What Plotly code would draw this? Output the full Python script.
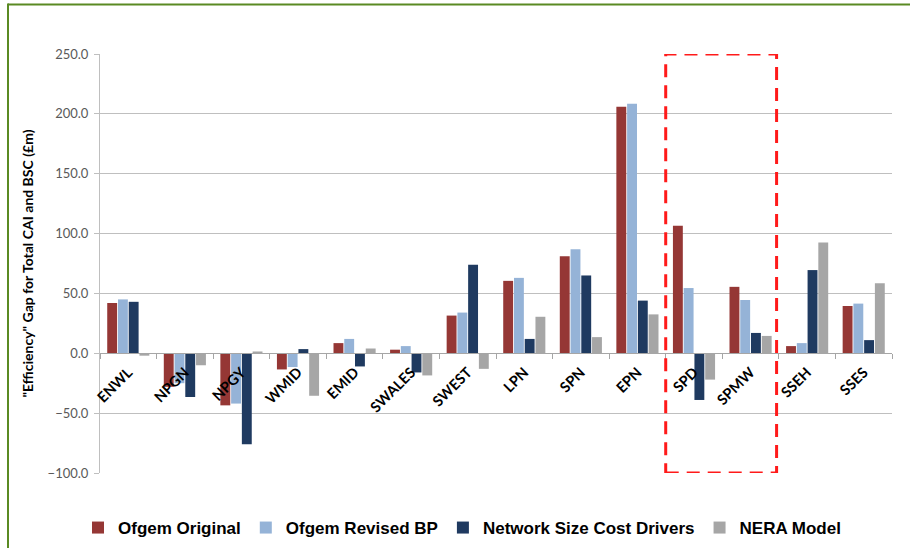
import plotly.graph_objects as go

categories = ["ENWL", "NPGN", "NPGY", "WMID", "EMID", "SWALES", "SWEST",
              "LPN", "SPN", "EPN", "SPD", "SPMW", "SSEH", "SSES"]

ofgem_original = [42, -28, -43.5, -13.5, 8.5, 3, 31.5, 60.5, 81, 206, 106.5, 55.5, 6, 39.5]
ofgem_revised_bp = [45, -25, -42, -11.5, 12, 6, 34, 63, 87, 208.5, 54.5, 44.5, 8.5, 41.5]
network_size = [43, -36.5, -76, 3.5, -11, -16, 74, 12, 65, 44, -39, 17, 69.5, 11]
nera_model = [-2, -10, 1.5, -35.5, 4, -18.5, -13, 30.5, 13.5, 32.5, -22, 14.5, 92.5, 58.5]

series_names = ["Ofgem Original", "Ofgem Revised BP", "Network Size Cost Drivers", "NERA Model"]
series_values = [ofgem_original, ofgem_revised_bp, network_size, nera_model]
series_colors = ["#953735", "#95b3d7", "#1f3a60", "#a6a6a6"]

y_ticks = [-100, -50, 0, 50, 100, 150, 200, 250]
y_min, y_max = -100, 250
highlight = ("SPD", "SPMW")

W, H = 910, 548
ML, MR, MT, MB = 100, 18, 54, 75

fig = go.Figure()
for name, vals, col in zip(series_names, series_values, series_colors):
    fig.add_trace(go.Bar(x=categories, y=vals, name=name, marker=dict(color=col, line=dict(width=0))))

pw = W - ML - MR
ph = H - MT - MB

def px_x(p):
    return (p - ML) / pw

def px_y(p):
    return (H - MB - p) / ph

shapes = [
    dict(type="rect", xref="x", yref="y",
         x0=categories.index(highlight[0]) - 0.5, x1=categories.index(highlight[1]) + 0.46,
         y0=y_min, y1=y_max,
         line=dict(color="#ff1a1a", width=3, dash="13px,8px"), fillcolor="rgba(0,0,0,0)", layer="above"),
    dict(type="line", xref="paper", yref="paper", x0=px_x(8), x1=px_x(W + 5), y0=px_y(4.5), y1=px_y(4.5),
         line=dict(color="#5a8a23", width=2)),
    dict(type="line", xref="paper", yref="paper", x0=px_x(8), x1=px_x(8), y0=px_y(3.5), y1=px_y(H + 5),
         line=dict(color="#5a8a23", width=2)),
]

fig.update_layout(
    width=W, height=H,
    margin=dict(l=ML, r=MR, t=MT, b=MB, autoexpand=False),
    paper_bgcolor="white", plot_bgcolor="white",
    barmode="group", bargap=0.24, bargroupgap=0.08,
    showlegend=True,
    legend=dict(orientation="h", x=px_x(462), xanchor="center", y=px_y(528), yanchor="middle",
                font=dict(family="Liberation Sans, Arial, sans-serif", size=17, color="black", weight="bold"),
                itemwidth=30, tracegroupgap=0),
    shapes=shapes,
    xaxis=dict(
        type="category", anchor="free", position=(0 - y_min) / (y_max - y_min),
        showline=True, linecolor="#a6a6a6", linewidth=1,
        ticks="outside", tickson="boundaries", ticklen=5, tickcolor="#a6a6a6",
        tickangle=-45, showgrid=False, zeroline=False,
        tickfont=dict(family="Lato, sans-serif", size=14.5, color="black", weight="bold"),
        ticklabelstandoff=4,
    ),
    yaxis=dict(
        range=[y_min, y_max], tickvals=y_ticks, tickformat=".1f",
        showgrid=True, gridcolor="#bfbfbf", gridwidth=1,
        zeroline=False, showline=True, linecolor="#bfbfbf", linewidth=1,
        ticks="outside", ticklen=5, tickcolor="#bfbfbf",
        tickfont=dict(family="Lato, sans-serif", size=13, color="#595959"),
        ticklabelstandoff=3,
        title=dict(text="\"Efficiency\" Gap for Total CAI and BSC (£m)",
                   font=dict(family="Lato, sans-serif", size=14, color="black", weight="bold"),
                   standoff=10),
    ),
)

fig.write_html("out.html")
